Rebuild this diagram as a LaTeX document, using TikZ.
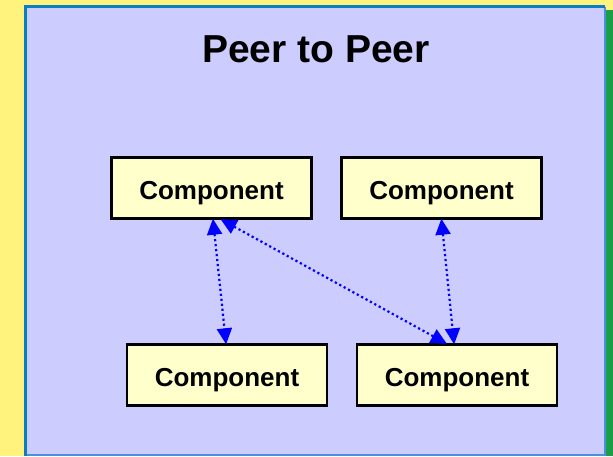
\documentclass[tikz,border=0pt]{standalone}
\usepackage{fontspec}
\setmainfont{Liberation Sans}
\usetikzlibrary{arrows.meta}
\definecolor{bgyellow}{HTML}{FFF27D}
\definecolor{shadowgreen}{HTML}{1A9E48}
\definecolor{lavender}{HTML}{CCCCFF}
\definecolor{frameblue}{HTML}{0B7DC6}
\definecolor{framelight}{HTML}{4A8FE0}
\definecolor{compfill}{HTML}{FFFFCC}
\definecolor{linkblue}{HTML}{0000FF}
\tikzset{
  compbox/.style={draw=black, line width=2.4pt, fill=compfill,
    minimum width=200pt, minimum height=61pt, inner sep=0pt,
    text height=22pt, text depth=0pt,
    font=\fontsize{26}{30}\selectfont\bfseries},
  link/.style={draw=linkblue, line width=2.2pt, dash pattern=on 2.2pt off 2.8pt,
    {Triangle[length=16pt,width=15pt,fill=linkblue]}-{Triangle[length=16pt,width=15pt,fill=linkblue]},
    shorten <=-1pt, shorten >=-1pt},
}
\begin{document}
\begin{tikzpicture}[x=1pt,y=-1pt]
\useasboundingbox (0,0) rectangle (613,456);
\fill[bgyellow] (0,0) rectangle (613,456);
\fill[shadowgreen] (606,10) rectangle (613,456);
\fill[lavender] (25.5,6.5) rectangle (605,455);
\draw[framelight, line width=2pt] (605,6.5) -- (605,455) -- (25.5,455);
\draw[frameblue, line width=3pt] (25.5,456) -- (25.5,6.5) -- (605,6.5);
\node[anchor=base, font=\fontsize{39}{44}\selectfont\bfseries] (title) at (316,62) {Peer to Peer};
\node[compbox] (c1) at (211.5,188) {Component};
\node[compbox] (c2) at (441.5,188) {Component};
\node[compbox] (c3) at (227,375) {Component};
\node[compbox] (c4) at (457,375) {Component};
\draw[link] ([xshift=1.5pt]c1.south) -- ([xshift=-1pt]c3.north);
\draw[link] ([xshift=10pt]c1.south) -- ([xshift=-11pt]c4.north);
\draw[link] ([xshift=0pt]c2.south) -- ([xshift=-3pt]c4.north);
\end{tikzpicture}
\end{document}
